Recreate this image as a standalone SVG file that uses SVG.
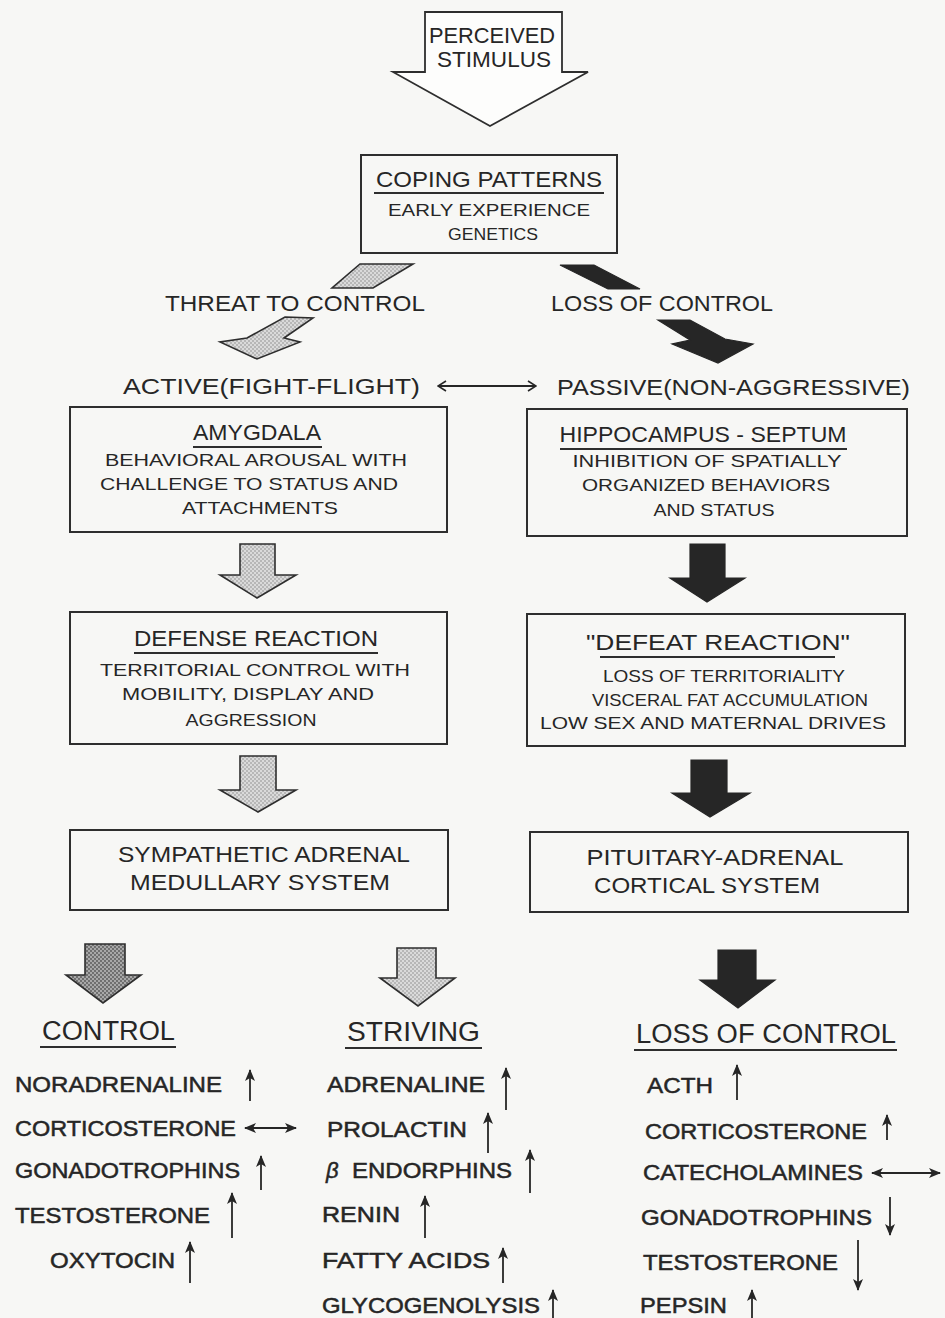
<svg xmlns="http://www.w3.org/2000/svg" width="945" height="1318" viewBox="0 0 945 1318">
<defs>
<style>
text{font-family:"Liberation Sans",Arial,sans-serif;fill:#262626}
.t{font-size:22px}
.b{font-size:17px}
.h{font-size:27px}
.l{font-size:22px;stroke:#262626;stroke-width:0.5}
.box{fill:none;stroke:#2e2e2e;stroke-width:2}
.ul{stroke:#2e2e2e;stroke-width:2.2}
.thin{stroke:#262626;stroke-width:1.8;fill:none}
.gray{fill:url(#dots);stroke:#2e2e2e;stroke-width:1.6}
.dark{fill:url(#dotsDark);stroke:#2e2e2e;stroke-width:1.6}
.blk{fill:#262626;stroke:#262626;stroke-width:1.2}
</style>
<pattern id="dots" width="4" height="4" patternUnits="userSpaceOnUse">
<rect width="4" height="4" fill="#dadada"/>
<circle cx="1" cy="1" r="0.8" fill="#8a8a8a"/>
<circle cx="3" cy="3" r="0.8" fill="#8a8a8a"/>
</pattern>
<pattern id="dotsDark" width="4" height="4" patternUnits="userSpaceOnUse">
<rect width="4" height="4" fill="#a8a8a8"/>
<circle cx="1" cy="1" r="0.9" fill="#555"/>
<circle cx="3" cy="3" r="0.9" fill="#555"/>
</pattern>
<marker id="ah" viewBox="0 0 12 10" refX="11" refY="5" markerWidth="12" markerHeight="10" markerUnits="userSpaceOnUse" orient="auto">
<path d="M0,0 L12,5 L0,10 L3,5 Z" fill="#262626"/>
</marker>
<marker id="hh" viewBox="0 0 12 10" refX="11" refY="5" markerWidth="12" markerHeight="10" markerUnits="userSpaceOnUse" orient="auto-start-reverse">
<path d="M0,0 L12,5 L0,10 L3,5 Z" fill="#262626"/>
</marker>
<marker id="open" viewBox="0 0 10 12" refX="9" refY="6" markerWidth="10" markerHeight="12" markerUnits="userSpaceOnUse" orient="auto-start-reverse">
<path d="M1,1 L9,6 L1,11" fill="none" stroke="#262626" stroke-width="1.6"/>
</marker>
</defs>
<rect width="945" height="1318" fill="#f7f7f5"/>

<g id="stimulus">
<polygon points="425,12 562,12 562,72 588,72 490,126 393,72 425,72" fill="#fdfdfc" stroke="#2e2e2e" stroke-width="1.8"/>
<text class="t" x="492" y="43" text-anchor="middle" textLength="126" lengthAdjust="spacingAndGlyphs">PERCEIVED</text>
<text class="t" x="494" y="67" text-anchor="middle" textLength="114" lengthAdjust="spacingAndGlyphs">STIMULUS</text>
</g>

<g id="coping">
<rect class="box" x="361" y="155" width="256" height="98"/>
<text class="t" x="489" y="187" text-anchor="middle" textLength="226" lengthAdjust="spacingAndGlyphs">COPING PATTERNS</text>
<line class="ul" x1="374" y1="193" x2="604" y2="193"/>
<text class="b" x="489" y="216" text-anchor="middle" textLength="202" lengthAdjust="spacingAndGlyphs">EARLY EXPERIENCE</text>
<text class="b" x="493" y="240" text-anchor="middle" textLength="90" lengthAdjust="spacingAndGlyphs">GENETICS</text>
</g>

<g id="threat">
<text class="t" x="165" y="311" textLength="260" lengthAdjust="spacingAndGlyphs">THREAT TO CONTROL</text>
</g>
<g id="loss">
<text class="t" x="551" y="311" textLength="222" lengthAdjust="spacingAndGlyphs">LOSS OF CONTROL</text>
</g>

<g id="active">
<text class="t" x="123" y="394" textLength="297" lengthAdjust="spacingAndGlyphs">ACTIVE(FIGHT-FLIGHT)</text>
</g>
<g id="passive">
<text class="t" x="557" y="395" textLength="353" lengthAdjust="spacingAndGlyphs">PASSIVE(NON-AGGRESSIVE)</text>
</g>

<g id="amygdala">
<rect class="box" x="70" y="407" width="377" height="125"/>
<text class="t" x="257" y="440" text-anchor="middle" textLength="128" lengthAdjust="spacingAndGlyphs">AMYGDALA</text>
<line class="ul" x1="193" y1="447" x2="322" y2="447"/>
<text class="b" x="256" y="466" text-anchor="middle" textLength="302" lengthAdjust="spacingAndGlyphs">BEHAVIORAL AROUSAL WITH</text>
<text class="b" x="249" y="490" text-anchor="middle" textLength="298" lengthAdjust="spacingAndGlyphs">CHALLENGE TO STATUS AND</text>
<text class="b" x="260" y="514" text-anchor="middle" textLength="156" lengthAdjust="spacingAndGlyphs">ATTACHMENTS</text>
</g>

<g id="hippocampus">
<rect class="box" x="527" y="409" width="380" height="127"/>
<text class="t" x="703" y="442" text-anchor="middle" textLength="287" lengthAdjust="spacingAndGlyphs">HIPPOCAMPUS - SEPTUM</text>
<line class="ul" x1="560" y1="449" x2="847" y2="449"/>
<text class="b" x="707" y="467" text-anchor="middle" textLength="269" lengthAdjust="spacingAndGlyphs">INHIBITION OF SPATIALLY</text>
<text class="b" x="706" y="491" text-anchor="middle" textLength="248" lengthAdjust="spacingAndGlyphs">ORGANIZED BEHAVIORS</text>
<text class="b" x="714" y="516" text-anchor="middle" textLength="121" lengthAdjust="spacingAndGlyphs">AND STATUS</text>
</g>

<g id="defense">
<rect class="box" x="70" y="612" width="377" height="132"/>
<text class="t" x="256" y="646" text-anchor="middle" textLength="244" lengthAdjust="spacingAndGlyphs">DEFENSE REACTION</text>
<line class="ul" x1="134" y1="653" x2="378" y2="653"/>
<text class="b" x="255" y="676" text-anchor="middle" textLength="310" lengthAdjust="spacingAndGlyphs">TERRITORIAL CONTROL WITH</text>
<text class="b" x="248" y="700" text-anchor="middle" textLength="252" lengthAdjust="spacingAndGlyphs">MOBILITY, DISPLAY AND</text>
<text class="b" x="251" y="726" text-anchor="middle" textLength="131" lengthAdjust="spacingAndGlyphs">AGGRESSION</text>
</g>

<g id="defeat">
<rect class="box" x="527" y="614" width="378" height="132"/>
<text class="t" x="718" y="650" text-anchor="middle" textLength="264" lengthAdjust="spacingAndGlyphs">"DEFEAT REACTION"</text>
<line class="ul" x1="600" y1="657" x2="835" y2="657"/>
<text class="b" x="724" y="682" text-anchor="middle" textLength="242" lengthAdjust="spacingAndGlyphs">LOSS OF TERRITORIALITY</text>
<text class="b" x="730" y="706" text-anchor="middle" textLength="276" lengthAdjust="spacingAndGlyphs">VISCERAL FAT ACCUMULATION</text>
<text class="b" x="713" y="729" text-anchor="middle" textLength="346" lengthAdjust="spacingAndGlyphs">LOW SEX AND MATERNAL DRIVES</text>
</g>

<g id="sympathetic">
<rect class="box" x="70" y="830" width="378" height="80"/>
<text class="t" x="264" y="862" text-anchor="middle" textLength="292" lengthAdjust="spacingAndGlyphs">SYMPATHETIC ADRENAL</text>
<text class="t" x="260" y="890" text-anchor="middle" textLength="260" lengthAdjust="spacingAndGlyphs">MEDULLARY SYSTEM</text>
</g>

<g id="pituitary">
<rect class="box" x="530" y="832" width="378" height="80"/>
<text class="t" x="715" y="865" text-anchor="middle" textLength="257" lengthAdjust="spacingAndGlyphs">PITUITARY-ADRENAL</text>
<text class="t" x="707" y="893" text-anchor="middle" textLength="226" lengthAdjust="spacingAndGlyphs">CORTICAL SYSTEM</text>
</g>

<g id="control">
<text class="h" x="42" y="1040" textLength="133" lengthAdjust="spacingAndGlyphs">CONTROL</text>
<line class="ul" x1="40" y1="1047" x2="176" y2="1047"/>
<text class="l" x="15" y="1092" textLength="207" lengthAdjust="spacingAndGlyphs">NORADRENALINE</text>
<text class="l" x="15" y="1136" textLength="221" lengthAdjust="spacingAndGlyphs">CORTICOSTERONE</text>
<text class="l" x="15" y="1178" textLength="225" lengthAdjust="spacingAndGlyphs">GONADOTROPHINS</text>
<text class="l" x="15" y="1223" textLength="195" lengthAdjust="spacingAndGlyphs">TESTOSTERONE</text>
<text class="l" x="50" y="1268" textLength="125" lengthAdjust="spacingAndGlyphs">OXYTOCIN</text>
</g>

<g id="striving">
<text class="h" x="347" y="1041" textLength="133" lengthAdjust="spacingAndGlyphs">STRIVING</text>
<line class="ul" x1="345" y1="1048" x2="482" y2="1048"/>
<text class="l" x="327" y="1092" textLength="158" lengthAdjust="spacingAndGlyphs">ADRENALINE</text>
<text class="l" x="327" y="1137" textLength="140" lengthAdjust="spacingAndGlyphs">PROLACTIN</text>
<text class="l" x="326" y="1178" font-style="italic">β</text>
<text class="l" x="352" y="1178" textLength="160" lengthAdjust="spacingAndGlyphs">ENDORPHINS</text>
<text class="l" x="322" y="1222" textLength="78" lengthAdjust="spacingAndGlyphs">RENIN</text>
<text class="l" x="322" y="1268" textLength="168" lengthAdjust="spacingAndGlyphs">FATTY ACIDS</text>
<text class="l" x="322" y="1313" textLength="218" lengthAdjust="spacingAndGlyphs">GLYCOGENOLYSIS</text>
</g>

<g id="lossofcontrol">
<text class="h" x="636" y="1043" textLength="260" lengthAdjust="spacingAndGlyphs">LOSS OF CONTROL</text>
<line class="ul" x1="634" y1="1050" x2="897" y2="1050"/>
<text class="l" x="647" y="1093" textLength="66" lengthAdjust="spacingAndGlyphs">ACTH</text>
<text class="l" x="645" y="1139" textLength="222" lengthAdjust="spacingAndGlyphs">CORTICOSTERONE</text>
<text class="l" x="643" y="1180" textLength="220" lengthAdjust="spacingAndGlyphs">CATECHOLAMINES</text>
<text class="l" x="641" y="1225" textLength="231" lengthAdjust="spacingAndGlyphs">GONADOTROPHINS</text>
<text class="l" x="643" y="1270" textLength="195" lengthAdjust="spacingAndGlyphs">TESTOSTERONE</text>
<text class="l" x="640" y="1313" textLength="87" lengthAdjust="spacingAndGlyphs">PEPSIN</text>
</g>

<g id="connectors">
<polygon class="gray" points="360,264 413,264 373,288 332,288"/>
<polygon class="gray" points="285,317 313,318 284,338 300,342 257,359 220,342 247,338"/>
<polygon class="blk" points="560,265 594,265 640,289 608,289"/>
<polygon class="blk" points="658,320 690,320 725,339 753,344 718,363 672,344 690,340"/>
<line class="thin" x1="438" y1="386" x2="536" y2="386" marker-start="url(#open)" marker-end="url(#open)"/>
<polygon class="gray" points="240,544 275,544 275,575 296,575 257,598 220,575 240,575"/>
<polygon class="blk" points="690,544 725,544 725,578 745,578 707,602 670,578 690,578"/>
<polygon class="gray" points="240,756 276,756 276,790 296,790 258,812 220,790 240,790"/>
<polygon class="blk" points="691,760 727,760 727,793 750,793 710,817 672,793 691,793"/>
<polygon class="dark" points="85,944 125,944 125,975 141,975 103,1003 66,975 85,975"/>
<polygon class="gray" points="397,948 436,948 436,978 455,978 418,1006 380,978 397,978"/>
<polygon class="blk" points="718,950 756,950 756,980 775,980 738,1008 700,980 718,980"/>
<line class="thin" x1="250" y1="1101" x2="250" y2="1070" marker-end="url(#ah)"/>
<line class="thin" x1="245" y1="1128" x2="296" y2="1128" marker-start="url(#hh)" marker-end="url(#hh)"/>
<line class="thin" x1="261" y1="1190" x2="261" y2="1156" marker-end="url(#ah)"/>
<line class="thin" x1="232" y1="1238" x2="232" y2="1193" marker-end="url(#ah)"/>
<line class="thin" x1="190" y1="1283" x2="190" y2="1242" marker-end="url(#ah)"/>
<line class="thin" x1="506" y1="1110" x2="506" y2="1068" marker-end="url(#ah)"/>
<line class="thin" x1="488" y1="1153" x2="488" y2="1113" marker-end="url(#ah)"/>
<line class="thin" x1="530" y1="1193" x2="530" y2="1150" marker-end="url(#ah)"/>
<line class="thin" x1="425" y1="1238" x2="425" y2="1196" marker-end="url(#ah)"/>
<line class="thin" x1="503" y1="1283" x2="503" y2="1248" marker-end="url(#ah)"/>
<line class="thin" x1="553" y1="1318" x2="553" y2="1290" marker-end="url(#ah)"/>
<line class="thin" x1="737" y1="1100" x2="737" y2="1065" marker-end="url(#ah)"/>
<line class="thin" x1="887" y1="1140" x2="887" y2="1115" marker-end="url(#ah)"/>
<line class="thin" x1="872" y1="1173" x2="940" y2="1173" marker-start="url(#hh)" marker-end="url(#hh)"/>
<line class="thin" x1="890" y1="1197" x2="890" y2="1235" marker-end="url(#ah)"/>
<line class="thin" x1="858" y1="1240" x2="858" y2="1290" marker-end="url(#ah)"/>
<line class="thin" x1="752" y1="1318" x2="752" y2="1290" marker-end="url(#ah)"/>
</g>
</svg>
